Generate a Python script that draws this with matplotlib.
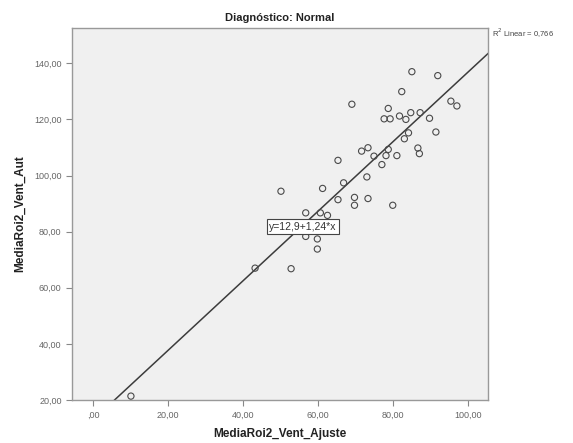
import numpy as np
import matplotlib
matplotlib.use("Agg")
import matplotlib.pyplot as plt
from matplotlib.ticker import FuncFormatter

plt.rcParams['font.family'] = ['Liberation Sans', 'DejaVu Sans']

# values
x_ajuste = [85.0, 91.9, 82.3, 69.0, 95.4, 97.0, 78.7, 77.6, 79.2, 81.7,
            83.4, 84.7, 87.2, 89.7, 84.1, 83.0, 91.4, 86.6, 87.0, 73.3,
            71.6, 74.9, 78.1, 81.0, 78.7, 77.0, 65.3, 73.0, 66.8, 61.2,
            50.1, 65.3, 69.7, 69.7, 73.3, 79.9, 56.7, 60.6, 62.5, 56.7,
            59.8, 59.8, 52.8, 43.2, 10.1]
y_aut = [137.0, 135.6, 129.9, 125.4, 126.5, 124.8, 123.9, 120.2, 120.2, 121.2,
         120.0, 122.4, 122.4, 120.4, 115.2, 113.1, 115.5, 109.8, 107.8, 109.9,
         108.7, 106.9, 107.1, 107.1, 109.3, 103.9, 105.4, 99.5, 97.4, 95.4,
         94.4, 91.4, 92.2, 89.4, 91.8, 89.4, 86.7, 86.7, 85.8, 78.3,
         77.4, 73.8, 66.8, 67.0, 21.4]

intercept = 12.9
slope = 1.24
r2 = 0.766

xticks = [0, 20, 40, 60, 80, 100]
yticks = [20, 40, 60, 80, 100, 120, 140]


def comma(v, pos=None):
    s = "%.2f" % v
    s = s.replace(".", ",")
    if s.startswith("0,"):
        s = s[1:]
    return s


fig = plt.figure(figsize=(5.73, 4.43), dpi=100)
ax = fig.add_axes([0.1257, 0.097, 0.726, 0.840])
ax.set_facecolor('#f0f0f0')

xmin, xmax = -5.6, 105.3
ymin, ymax = 20, 152.6

# fit line
xl = np.array([xmin, xmax])
ax.plot(xl, intercept + slope * xl, color='#3c3c3c', lw=1.1, zorder=2)

# points
ax.scatter(x_ajuste, y_aut, s=20, facecolors='none', edgecolors='#4a4a4a',
           linewidths=0.8, zorder=3)

ax.set_xlim(xmin, xmax)
ax.set_ylim(ymin, ymax)
ax.set_xticks(xticks)
ax.set_yticks(yticks)
ax.xaxis.set_major_formatter(FuncFormatter(comma))
ax.yaxis.set_major_formatter(FuncFormatter(comma))
ax.tick_params(direction='out', length=4, width=0.8, colors='#888888',
               labelsize=6.5, labelcolor='#666666')
for sp in ax.spines.values():
    sp.set_color('#999999')
    sp.set_linewidth(1.0)

ax.set_xlabel('MediaRoi2_Vent_Ajuste', fontsize=8.5, fontweight='bold',
              color='#222222', labelpad=6)
ax.set_ylabel('MediaRoi2_Vent_Aut', fontsize=8.5, fontweight='bold',
              color='#222222', labelpad=6)
ax.set_title('Diagnóstico: Normal', fontsize=8, fontweight='bold',
             color='#222222', pad=5)

# equation label
eq = 'y=' + comma(intercept).rstrip('0') + '+' + comma(slope) + '*x'
ax.text(56.0, 81.8, eq, fontsize=7.5, color='#333333', ha='center', va='center',
        bbox=dict(boxstyle='square,pad=0.25', fc='white', ec='#444444', lw=0.8),
        zorder=4)

# R2 label
fig.text(0.858, 0.925, 'R$^2$ Linear = ' + ("%.3f" % r2).replace('.', ','),
         fontsize=5.5, color='#444444', ha='left', va='center')

fig.savefig('out.png', dpi=100, facecolor='white')
